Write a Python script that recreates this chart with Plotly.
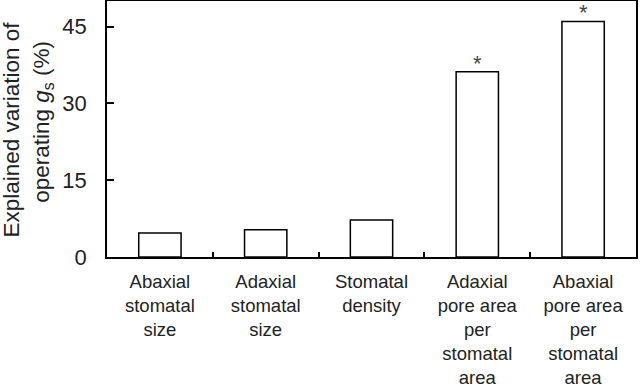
import plotly.graph_objects as go

categories = [
    "Abaxial<br>stomatal<br>size",
    "Adaxial<br>stomatal<br>size",
    "Stomatal<br>density",
    "Adaxial<br>pore area<br>per<br>stomatal<br>area",
    "Abaxial<br>pore area<br>per<br>stomatal<br>area",
]
values = [4.7, 5.3, 7.25, 36.2, 46.0]
significant = [False, False, False, True, True]
y_ticks = [0, 15, 30, 45]
y_title_lines = [
    "Explained variation of",
    "operating <i>g</i><sub>s</sub> (%)",
]

FONT = "Liberation Sans, Arial, Helvetica, sans-serif"
TXT = "#222"

fig = go.Figure()
fig.add_trace(go.Bar(
    x=categories, y=values, width=0.4,
    marker=dict(color="white", line=dict(color="black", width=1.5)),
    showlegend=False, hoverinfo="skip",
))

for c, v, s in zip(categories, values, significant):
    if s:
        fig.add_annotation(x=c, y=v, text="*", showarrow=False,
                           xref="x", yref="y", yanchor="bottom", yshift=-6,
                           font=dict(family=FONT, size=22, color="#444"))

# y-axis title as two rotated lines
for txt, xs, yc in zip(y_title_lines, [-95, -64], [0.498, 0.528]):
    fig.add_annotation(text=txt, xref="paper", yref="paper", x=0, y=yc,
                       xshift=xs, xanchor="center", yanchor="middle",
                       textangle=-90, showarrow=False,
                       font=dict(family=FONT, size=22.5, color=TXT))

fig.update_layout(
    width=640, height=388,
    margin=dict(l=107, r=4, t=1, b=131, pad=0),
    paper_bgcolor="white", plot_bgcolor="white",
    font=dict(family=FONT, color=TXT),
    bargap=0.6,
)
fig.update_xaxes(
    type="category", showline=True, mirror=True, linecolor="black", linewidth=1.5,
    ticks="inside", tickson="boundaries", ticklen=5, tickwidth=1.5, tickcolor="black",
    tickfont=dict(size=18.5, family=FONT, color=TXT), ticklabelstandoff=7,
    showgrid=False, zeroline=False, automargin=False,
)
fig.update_yaxes(
    range=[0, 50], tickvals=y_ticks, ticktext=[str(t) for t in y_ticks],
    showline=True, mirror=True, linecolor="black", linewidth=1.5,
    ticks="inside", ticklen=7, tickwidth=1.5, tickcolor="black",
    tickfont=dict(size=22, family=FONT, color=TXT), ticklabelstandoff=14,
    showgrid=False, zeroline=False, automargin=False,
)

fig.write_html("out.html", config={"displayModeBar": False},
               post_script="document.body.style.margin='0';")
